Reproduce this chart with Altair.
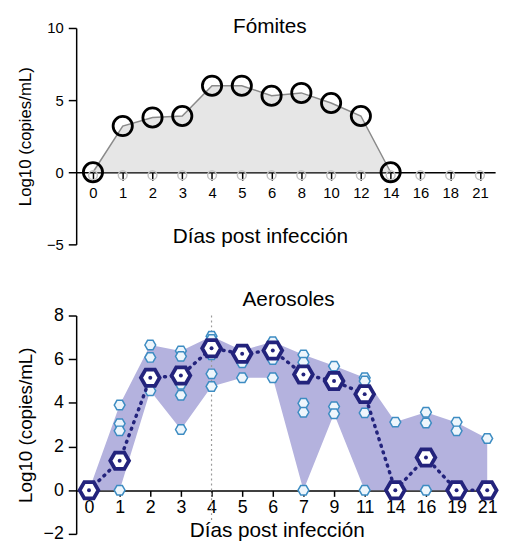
import altair as alt
import pandas as pd

# ---------------- data ----------------
fom_days = ["0", "1", "2", "3", "4", "5", "6", "8", "10", "12", "14", "16", "18", "21"]
fom_values = [0.0, 3.2, 3.8, 3.9, 6.0, 6.0, 5.3, 5.5, 4.8, 3.9, 0.0]

aer_days = ["0", "1", "2", "3", "4", "5", "6", "7", "9", "11", "14", "16", "19", "21"]
aer_median = [0.0, 1.35, 5.15, 5.25, 6.5, 6.25, 6.4, 5.3, 5.0, 4.4, 0.0, 1.5, 0.0, 0.0]
aer_min = [0.0, 0.0, 4.55, 2.78, 4.75, 5.15, 5.15, 0.0, 3.5, 0.0, 0.0, 0.0, 0.0, 0.0]
aer_max = [0.0, 3.9, 6.65, 6.38, 7.05, 6.4, 6.8, 6.2, 5.7, 5.15, 3.12, 3.57, 3.1, 2.37]
aer_points = [
    [0.0, 0.0, 0.0],
    [3.9, 3.05, 2.72, 0.0],
    [6.65, 6.08, 4.55],
    [6.38, 6.13, 4.85, 4.35, 2.78],
    [7.05, 6.9, 6.2, 5.33, 4.75],
    [6.4, 5.83, 5.15],
    [6.8, 5.98, 5.15],
    [6.2, 5.86, 3.98, 3.57, 0.0],
    [5.68, 3.83, 3.5],
    [5.15, 5.0, 3.54, 0.0],
    [3.12, 0.0],
    [3.57, 3.08, 0.0],
    [3.12, 2.72, 0.0],
    [2.37, 0.0],
]

FONT = "Liberation Sans"
HEX = "M-1,0L-0.5,-0.866L0.5,-0.866L1,0L0.5,0.866L-0.5,0.866Z"
NAVY = "#23237c"


def label_expr(days):
    return "[" + ",".join("'%s'" % d for d in days) + "][datum.value]"


# ---------------- Fómites ----------------
fom_main = pd.DataFrame({"i": list(range(len(fom_values))), "v": fom_values})
fom_ghost = pd.DataFrame({"i": list(range(len(fom_days))), "v": [0.0] * len(fom_days)})

W1, H1 = 424, 219
x1 = alt.X(
    "i:Q",
    scale=alt.Scale(domain=[-0.564, 13.51], nice=False, zero=False),
    axis=alt.Axis(
        values=list(range(len(fom_days))), labelExpr=label_expr(fom_days),
        title="Días post infección", offset=-73, tickSize=8, labelPadding=6,
        labelFontSize=15, titleFontSize=21, titlePadding=25,
        titleX=186, titleAlign="center",
        labelFlush=False, labelOverlap=False,
    ),
)
y1 = alt.Y(
    "v:Q",
    scale=alt.Scale(domain=[-5, 10], nice=False, zero=False),
    axis=alt.Axis(
        values=[-5, 0, 5, 10], title="Log10 (copies/mL)", tickSize=8,
        labelPadding=5, labelFontSize=15, titleFontSize=17, titlePadding=12,
    ),
)

fom_area = alt.Chart(fom_main).mark_area(color="#e6e6e6", opacity=1).encode(
    x=x1, y=y1, y2=alt.datum(0)
)
fom_line = alt.Chart(fom_main).mark_line(color="#8a8a8a", strokeWidth=1.5).encode(x=x1, y=y1)
fom_gh = alt.Chart(fom_ghost).mark_point(
    shape="circle", filled=False, stroke="#c4c4c4", strokeWidth=1.5, size=80, yOffset=3, opacity=1
).encode(x=x1, y=y1)
fom_pts = alt.Chart(fom_main).mark_point(
    shape="circle", filled=False, stroke="black", strokeWidth=2.8, size=380, opacity=1
).encode(x=x1, y=y1)

top = alt.layer(fom_area, fom_line, fom_gh, fom_pts).properties(
    width=W1, height=H1,
    title=alt.TitleParams("Fómites", offset=-16, dx=-16, frame="group",
                          fontSize=21, fontWeight="normal", font=FONT),
)

# ---------------- Aerosoles ----------------
aer_band = pd.DataFrame({
    "i": list(range(len(aer_days))), "lo": aer_min, "hi": aer_max, "med": aer_median,
})
rows = []
for k, vals in enumerate(aer_points):
    for v in vals:
        rows.append({"i": k, "v": v})
aer_pts_df = pd.DataFrame(rows)
vline_df = pd.DataFrame({"i": [aer_days.index("4")], "top": [8.0], "bot": [-1.5]})

W2, H2 = 424, 221
x2 = alt.X(
    "i:Q",
    scale=alt.Scale(domain=[-0.419, 13.258], nice=False, zero=False),
    axis=alt.Axis(
        values=list(range(len(aer_days))), labelExpr=label_expr(aer_days),
        title="Días post infección", offset=-44, tickSize=6, labelPadding=2,
        labelFontSize=18, titleFontSize=21, titlePadding=4,
        titleX=203, titleAlign="center",
        labelFlush=False, labelOverlap=False,
    ),
)
y2s = alt.Scale(domain=[-2, 8], nice=False, zero=False)
y2ax = alt.Axis(
    values=[-2, 0, 2, 4, 6, 8], title="Log10 (copies/mL)", tickSize=8,
    labelPadding=5, labelFontSize=18, titleFontSize=19, titlePadding=8,
)

aer_area = alt.Chart(aer_band).mark_area(color="#b4b2de", opacity=1).encode(
    x=x2, y=alt.Y("hi:Q", scale=y2s, axis=y2ax), y2="lo:Q"
)
aer_vline = alt.Chart(vline_df).mark_rule(
    color="#9a9a9a", strokeWidth=1.2, strokeDash=[2, 3]
).encode(x=x2, y=alt.Y("top:Q", scale=y2s, axis=y2ax), y2="bot:Q")
aer_ind = alt.Chart(aer_pts_df).mark_point(
    shape=HEX, filled=True, fill="#eef6fc", stroke="#3d8cc2", strokeWidth=1.5, size=120, opacity=1
).encode(x=x2, y=alt.Y("v:Q", scale=y2s, axis=y2ax))
aer_medline = alt.Chart(aer_band).mark_line(
    color=NAVY, strokeWidth=3.5, strokeDash=[1, 6], strokeCap="round"
).encode(x=x2, y=alt.Y("med:Q", scale=y2s, axis=y2ax))
aer_med = alt.Chart(aer_band).mark_point(
    shape=HEX, filled=True, fill="white", stroke=NAVY, strokeWidth=3.8, size=360, opacity=1
).encode(x=x2, y=alt.Y("med:Q", scale=y2s, axis=y2ax))
aer_medc = alt.Chart(aer_band).mark_point(
    shape="circle", filled=True, color=NAVY, size=16, opacity=1
).encode(x=x2, y=alt.Y("med:Q", scale=y2s, axis=y2ax))

bottom = alt.layer(aer_area, aer_vline, aer_ind, aer_medline, aer_med, aer_medc).properties(
    width=W2, height=H2,
    title=alt.TitleParams("Aerosoles", offset=-3, dx=3, frame="group",
                          fontSize=21, fontWeight="normal", font=FONT),
)

chart = (
    alt.vconcat(top, bottom, spacing=37)
    .properties(padding={"left": 8, "top": 5, "right": 0, "bottom": -3})
    .configure_view(stroke=None)
    .configure_axis(
        grid=False, domainColor="black", tickColor="black", domainWidth=1.5, tickWidth=1.5,
        labelColor="black", titleColor="black", labelFont=FONT, titleFont=FONT,
        titleFontWeight="normal",
    )
    .configure_title(color="black", anchor="middle")
)

chart.save("out.html", embed_options={"renderer": "svg", "actions": False})
